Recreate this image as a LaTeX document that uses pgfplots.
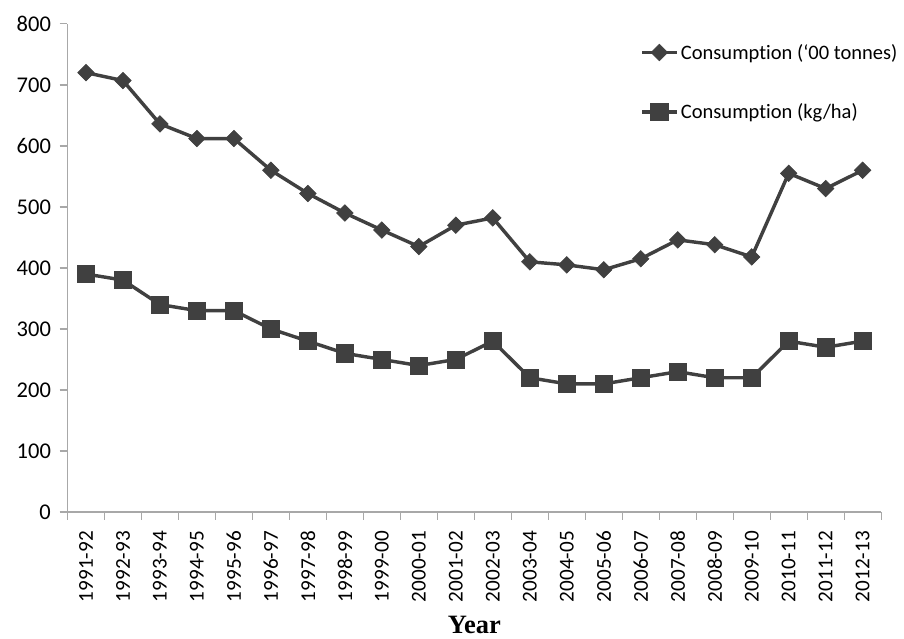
\documentclass[border=0pt]{standalone}
\usepackage{pgfplots}
\pgfplotsset{compat=1.18}
\usepackage{fontspec}
\setmainfont[Ligatures=NoCommon]{Carlito}
\newfontfamily\yearfont{Liberation Serif}
\definecolor{ser}{HTML}{404040}
\definecolor{axg}{HTML}{A8A8A8}
\begin{document}
\begin{tikzpicture}
\begin{axis}[
name=ax,
scale only axis,
width=615pt, height=369pt,
xmin=-0.5, xmax=21.5,
ymin=0, ymax=800,
ytick={0,100,...,800},
xtick={0,...,21},
xticklabels={1991-92,1992-93,1993-94,1994-95,1995-96,1996-97,1997-98,1998-99,1999-00,2000-01,2001-02,2002-03,2003-04,2004-05,2005-06,2006-07,2007-08,2008-09,2009-10,2010-11,2011-12,2012-13},
minor xtick={-0.5,0.5,...,21.5},
x tick label style={rotate=90, anchor=east, font=\fontsize{16}{18}\selectfont, xshift=-5pt},
y tick label style={font=\fontsize{17}{19}\selectfont, xshift=-3pt},
/pgf/number format/assume math mode=true,
axis x line*=bottom, axis y line*=left,
axis line style={axg, line width=1pt, -},
tick align=outside,
major x tick style={draw=none},
minor tick length=6pt,
major tick length=6pt,
tick style={axg, line width=1pt},
xlabel={\yearfont\bfseries Year},
xlabel style={font=\fontsize{20}{22}\selectfont, yshift=-4pt},
legend style={draw=none, fill=none, at={(0.699,0.97)}, anchor=north west,
  font=\fontsize{15.5}{17}\selectfont, row sep=28pt, cells={anchor=west}},
legend cell align=left,
legend image code/.code={\draw[mark repeat=2,mark phase=2,#1] plot coordinates {(0pt,0pt) (13pt,0pt) (26pt,0pt)};},
]
\addplot[color=ser, line width=2.6pt, mark=square*, mark size=4.4pt, mark options={fill=ser, line width=0.5pt, rotate=45}]
coordinates {
(0,720)(1,707)(2,636)(3,612)(4,612)(5,560)(6,522)(7,490)(8,462)(9,435)(10,470)
(11,482)(12,410)(13,405)(14,397)(15,415)(16,446)(17,438)(18,418)(19,555)(20,530)(21,560)
};
\addplot[color=ser, line width=2.6pt, mark=square*, mark size=6.5pt, mark options={fill=ser, line width=0.5pt}]
coordinates {
(0,390)(1,380)(2,340)(3,330)(4,330)(5,300)(6,280)(7,260)(8,250)(9,240)(10,250)
(11,280)(12,220)(13,210)(14,210)(15,220)(16,230)(17,220)(18,220)(19,280)(20,270)(21,280)
};
\legend{Consumption (‘00 tonnes),Consumption (kg/ha)}
\end{axis}
\path (ax.south west) ++(-51pt,-92.25pt) coordinate (bl);
\path (ax.south west) ++(627pt,387pt) coordinate (tr);
\path (bl) rectangle (tr);
\end{tikzpicture}
\end{document}
